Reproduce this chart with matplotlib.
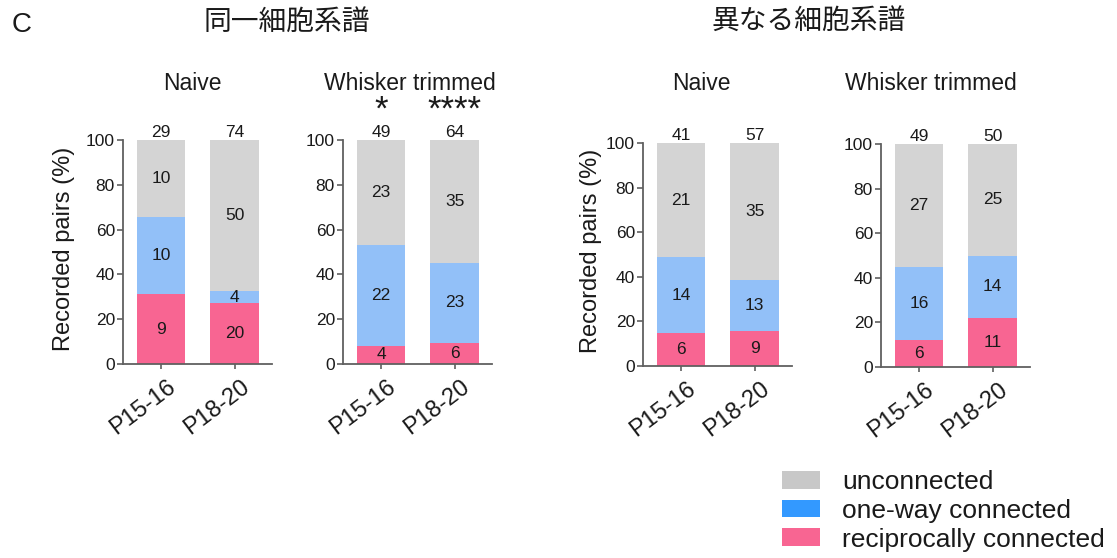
import matplotlib.pyplot as plt
from matplotlib.patches import Patch

plt.rcParams['font.family'] = ['Liberation Sans', 'Noto Sans CJK JP']

groups = ["P15-16", "P18-20"]
panel_titles = ["Naive", "Whisker trimmed", "Naive", "Whisker trimmed"]
section_titles = ["同一細胞系譜", "異なる細胞系譜"]
recip = [[9, 20], [4, 6], [6, 9], [6, 11]]
oneway = [[10, 4], [22, 23], [14, 13], [16, 14]]
uncon = [[10, 50], [23, 35], [21, 35], [27, 25]]
stars = [None, ["*", "****"], None, None]
legend_labels = ["unconnected", "one-way connected", "reciprocally connected"]

bar_cols = ["#d4d4d4", "#92c0f8", "#f86592"]
leg_cols = ["#c8c8c8", "#3399ff", "#f86592"]
txt = '#1a1a1a'

W, H = 1117, 558
fig = plt.figure(figsize=(W / 100, H / 100), dpi=100)

# axes boxes in pixels: x0, x1, ytop, ybottom
boxes = [(123, 272, 140, 364), (343, 492, 140, 364),
         (643, 792, 143, 366), (881, 1030, 144, 367)]
title_x = [192, 410, 701, 931]
ylab_x = [-0.32, None, -0.275, None]

for i in range(4):
    x0, x1, yt, yb = boxes[i]
    ax = fig.add_axes([x0 / W, 1 - yb / H, (x1 - x0) / W, (yb - yt) / H])
    tot = [recip[i][j] + oneway[i][j] + uncon[i][j] for j in range(2)]
    r = [recip[i][j] / tot[j] * 100 for j in range(2)]
    o = [oneway[i][j] / tot[j] * 100 for j in range(2)]
    u = [uncon[i][j] / tot[j] * 100 for j in range(2)]
    x = [0, 1]
    ax.bar(x, r, width=0.66, color=bar_cols[2], lw=0)
    ax.bar(x, o, width=0.66, bottom=r, color=bar_cols[1], lw=0)
    ax.bar(x, u, width=0.66, bottom=[r[j] + o[j] for j in range(2)], color=bar_cols[0], lw=0)
    for j in range(2):
        ax.text(x[j], r[j] / 2, str(recip[i][j]), ha='center', va='center', fontsize=12.5, color=txt)
        ax.text(x[j], r[j] + o[j] / 2, str(oneway[i][j]), ha='center', va='center', fontsize=12.5, color=txt)
        ax.text(x[j], r[j] + o[j] + u[j] / 2, str(uncon[i][j]), ha='center', va='center', fontsize=12.5, color=txt)
        ax.annotate(str(tot[j]), (x[j], 100), xytext=(0, 2), textcoords='offset points',
                    ha='center', va='baseline', fontsize=12.5, color=txt, annotation_clip=False)
    ax.set_xlim(-0.52, 1.51)
    ax.set_ylim(0, 100)
    ax.set_yticks([0, 20, 40, 60, 80, 100])
    ax.set_xticks(x, ['', ''])
    # labels sit left of the tick marks, as in the original
    ax.set_xticks([j - 0.243 for j in x], groups, minor=True)
    for lab in ax.get_xticklabels(minor=True):
        lab.set_rotation(37)
        lab.set_ha('center')
        lab.set_va('center')
    ax.tick_params(axis='x', which='major', length=3.6, width=1.2, color='#606060')
    ax.tick_params(axis='x', which='minor', length=0, pad=31.5, labelsize=17, labelcolor=txt)
    ax.tick_params(axis='y', length=4.3, width=1.2, color='#606060', labelsize=12.5, labelcolor=txt, pad=1.5)
    for s in ['top', 'right']:
        ax.spines[s].set_visible(False)
    for s in ['left', 'bottom']:
        ax.spines[s].set_color('#606060')
        ax.spines[s].set_linewidth(1.3)
    if ylab_x[i] is not None:
        ax.set_ylabel("Recorded pairs (%)", fontsize=17, color=txt)
        ax.yaxis.set_label_coords(ylab_x[i], 0.515)
    fig.text(title_x[i] / W, 1 - 83 / H, panel_titles[i], ha='center', va='center', fontsize=16.5, color=txt)
    if stars[i]:
        for j in range(2):
            ax.annotate(stars[i][j], (x[j], 100), xytext=(0, 15), textcoords='offset points',
                        ha='center', va='baseline', fontsize=25, color=txt, annotation_clip=False)

fig.text(287 / W, 1 - 22 / H, section_titles[0], ha='center', va='center', fontsize=20,
         family='Noto Sans CJK JP', color=txt)
fig.text(809 / W, 1 - 22 / H, section_titles[1], ha='center', va='center', fontsize=20,
         family='Noto Sans CJK JP', color=txt)
fig.text(22 / W, 1 - 25 / H, "C", ha='center', va='center', fontsize=20, color=txt)

handles = [Patch(facecolor=c, edgecolor='none') for c in leg_cols]
fig.legend(handles, legend_labels, loc='upper left', bbox_to_anchor=(782 / W, 1 - 470 / H),
           frameon=False, fontsize=19, borderpad=0, borderaxespad=0, labelspacing=0.18,
           handlelength=1.43, handleheight=0.67, handletextpad=0.85, labelcolor=txt)

fig.savefig("out.png", dpi=100)
